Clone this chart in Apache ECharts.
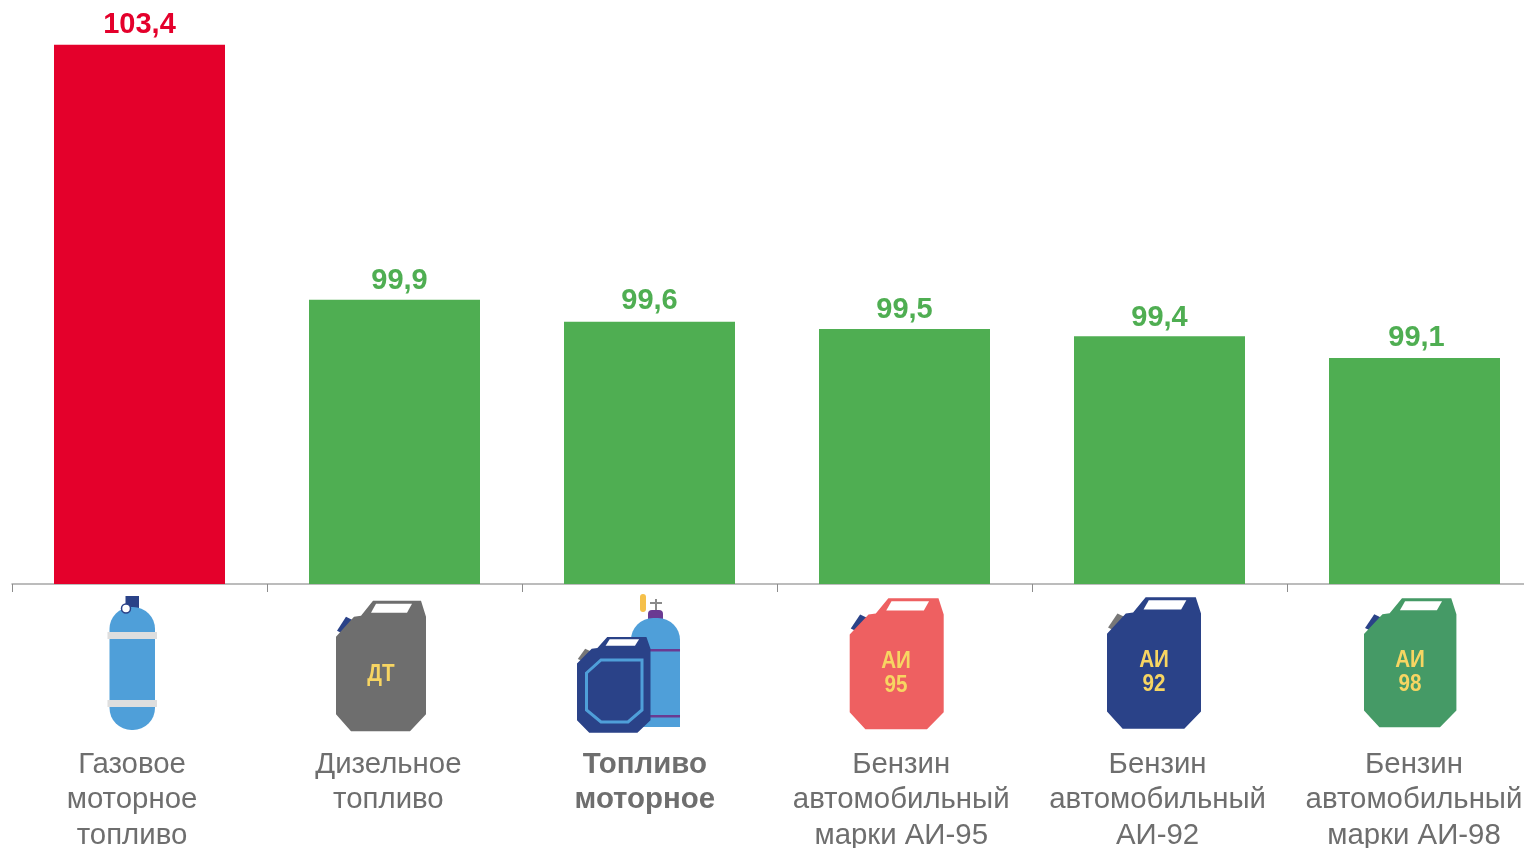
<!DOCTYPE html>
<html>
<head>
<meta charset="utf-8">
<title>Топливо моторное</title>
<style type="text/css">
html,body{margin:0;padding:0;background:#fff;overflow:hidden;width:1524px;height:848px}
#chart_main{width:1600px;height:920px}
</style>
<script src="https://cdn.jsdelivr.net/npm/echarts@6/dist/echarts.min.js"></script>
</head>
<body>
<div id="chart_main"></div>
<script type="text/javascript">
var categories = ['Газовое\nмоторное\nтопливо','Дизельное\nтопливо','Топливо\nмоторное','Бензин\nавтомобильный\nмарки АИ-95','Бензин\nавтомобильный\nАИ-92','Бензин\nавтомобильный\nмарки АИ-98'];
var values = [103.4,99.9,99.6,99.5,99.4,99.1];
var bar_colors = ['#e4002b','#4fae52','#4fae52','#4fae52','#4fae52','#4fae52'];
var label_shift_x = [0,5,0,0,0,2];
var label_shift_y = [1,2,0,2,2,0];
var bold_index = 2;

var font = '"Liberation Sans",Arial,sans-serif';
var navy = '#2a4288';
var yellow = '#f7d562';
var sky = '#4f9fd9';

// canister drawn in a 90x130 box, then moved and scaled
function canister(x,y,w,h,color,cap){
	return {
		type:'group',x:x,y:y,scaleX:w/90,scaleY:h/130,
		children:[
			{type:'polygon',shape:{points:[[1,30],[10,16],[18,20],[7,33]]},style:{fill:cap}},
			{type:'polygon',shape:{points:[[0,36],[18,16],[25,15],[37,0],[85,0],[90,16],[90,113],[74,130],[15,130],[0,113]]},style:{fill:color}},
			{type:'polygon',shape:{points:[[35,12],[40,3],[76,3],[71,12]]},style:{fill:'#fff'}}
		]
	};
}
function can_text(cx,cy,str){
	return {type:'text',x:cx,y:cy,scaleX:0.86,style:{text:str,fill:yellow,font:'bold 24px '+font,align:'center',verticalAlign:'middle',lineHeight:24}};
}

var icons = [
	// gas cylinder
	{type:'rect',shape:{x:125.5,y:596,width:13.5,height:14},style:{fill:navy}},
	{type:'rect',shape:{x:109.5,y:607,width:45.5,height:123,r:22},style:{fill:sky}},
	{type:'rect',shape:{x:107.5,y:632,width:49.5,height:7},style:{fill:'#dedede'}},
	{type:'rect',shape:{x:107.5,y:700,width:49.5,height:7},style:{fill:'#dedede'}},
	{type:'circle',shape:{cx:126,cy:608.5,r:4.5},style:{fill:'#fff',stroke:navy,lineWidth:1.5}},
	// diesel
	canister(336,600.7,90,130.6,'#6e6e6e',navy),
	can_text(381,674,'ДТ'),
	// mixed: cylinder behind a canister
	{type:'rect',shape:{x:640,y:594,width:6,height:18,r:3},style:{fill:'#f5c04a'}},
	{type:'rect',shape:{x:655,y:599,width:2,height:12},style:{fill:'#8a8a8a'}},
	{type:'rect',shape:{x:650,y:602,width:12,height:2},style:{fill:'#8a8a8a'}},
	{type:'rect',shape:{x:648,y:610,width:15,height:10,r:[4,4,0,0]},style:{fill:'#6a3a92'}},
	{type:'rect',shape:{x:631,y:618,width:49,height:109,r:[22,22,0,0]},style:{fill:sky}},
	{type:'rect',shape:{x:648,y:649,width:32,height:2.5},style:{fill:'#6a3a92'}},
	{type:'rect',shape:{x:648,y:715,width:32,height:2.5},style:{fill:'#6a3a92'}},
	canister(577,637,73.5,95.7,navy,'#777'),
	{type:'polygon',shape:{points:[[586.5,673],[601,660],[642,660],[642,710],[628,722],[601,722],[586.5,710]]},style:{fill:'none',stroke:sky,lineWidth:3}},
	// petrol
	canister(849.7,598.3,94,131,'#ee6061',navy),
	can_text(896,673.5,'АИ\n95'),
	canister(1107,597.3,94,131.4,navy,'#777'),
	can_text(1154,672.5,'АИ\n92'),
	canister(1364,598.3,92.4,129,'#459a66',navy),
	can_text(1410,672.5,'АИ\n98')
];

var myChart = echarts.init(document.getElementById('chart_main'));
var bar_data = values.map(function(v,i){
	return {
		value:v,
		itemStyle:{color:bar_colors[i]},
		label:{color:bar_colors[i],offset:[label_shift_x[i],label_shift_y[i]]}
	};
});
var cat_data = categories.map(function(c,i){
	return i == bold_index ? {value:c,textStyle:{fontWeight:'bold'}} : c;
});
var option = {
	animation:false,
	backgroundColor:'#fff',
	grid:[
		{left:12,top:1,width:1530,height:583},
		{left:3.8,top:1,width:1538.4,height:583}
	],
	xAxis:[
		{
			type:'category',gridIndex:0,data:categories,
			axisLine:{lineStyle:{color:'#a6a6a6',width:1.5}},
			axisTick:{show:true,length:8,lineStyle:{color:'#8c8c8c',width:1}},
			axisLabel:{show:false}
		},
		{
			type:'category',gridIndex:1,data:cat_data,
			axisLine:{show:false},
			axisTick:{show:false},
			axisLabel:{interval:0,margin:163,color:'#6e6e6e',fontFamily:font,fontSize:29.4,lineHeight:35.5,align:'center',verticalAlign:'top'}
		}
	],
	yAxis:[
		{type:'value',gridIndex:0,min:96,max:104,show:false},
		{type:'value',gridIndex:1,min:96,max:104,show:false}
	],
	series:[{
		type:'bar',
		xAxisIndex:0,
		yAxisIndex:0,
		barWidth:171,
		data:bar_data,
		label:{
			show:true,
			position:'top',
			distance:6,
			fontFamily:font,
			fontSize:29,
			fontWeight:'bold',
			formatter:function(p){
				return p.value.toFixed(1).replace('.',',');
			}
		}
	}],
	graphic:icons
};
myChart.setOption(option);
</script>
</body>
</html>
